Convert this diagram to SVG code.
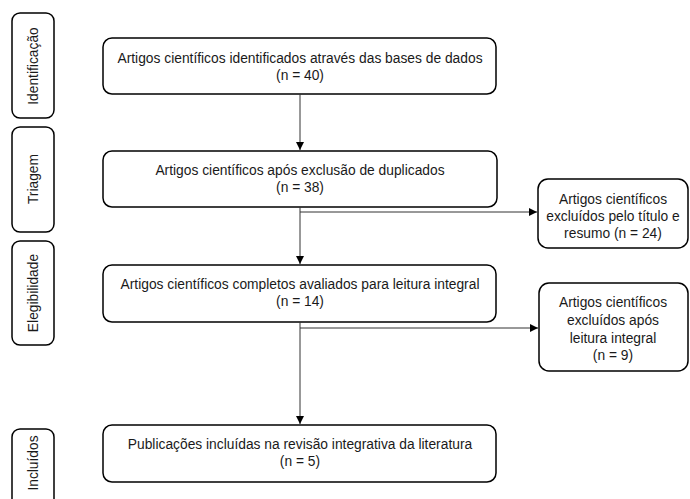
<svg xmlns="http://www.w3.org/2000/svg" width="690" height="499" viewBox="0 0 690 499">
  <defs>
    <marker id="arr" viewBox="0 0 10 10" refX="10" refY="5" markerWidth="8" markerHeight="8" markerUnits="userSpaceOnUse" orient="auto">
      <path d="M0,0 L10,5 L0,10 Z" fill="#000"/>
    </marker>
    <style>
      .box { fill: #fff; stroke: #000; stroke-width: 1.5; }
      .t { font-family: "Liberation Sans", Arial, sans-serif; font-size: 13.8px; fill: #1a1a1a; text-anchor: middle; }
      .c { fill: none; stroke: #333; stroke-width: 1; }
    </style>
  </defs>
  <rect width="690" height="499" fill="#fff"/>

  <g id="stage-identificacao">
    <rect class="box" x="12" y="13" width="42" height="105" rx="8"/>
    <text class="t" transform="translate(38,66) rotate(-90)">Identificação</text>
  </g>
  <g id="stage-triagem">
    <rect class="box" x="12" y="127" width="42" height="105" rx="8"/>
    <text class="t" transform="translate(38,179) rotate(-90)">Triagem</text>
  </g>
  <g id="stage-elegibilidade">
    <rect class="box" x="12" y="241" width="42" height="104" rx="8"/>
    <text class="t" transform="translate(38,293) rotate(-90)">Elegibilidade</text>
  </g>
  <g id="stage-incluidos">
    <rect class="box" x="12" y="429" width="42" height="85" rx="8"/>
    <text class="t" transform="translate(38,463) rotate(-90)">Incluídos</text>
  </g>

  <g id="n-identificados">
    <rect class="box" x="103" y="38" width="393" height="56" rx="9"/>
    <text class="t" x="300" y="63">Artigos científicos identificados através das bases de dados</text>
    <text class="t" x="300" y="80">(n = 40)</text>
  </g>
  <g id="n-triagem">
    <rect class="box" x="103" y="151" width="394" height="56" rx="9"/>
    <text class="t" x="300" y="175">Artigos científicos após exclusão de duplicados</text>
    <text class="t" x="300" y="192">(n = 38)</text>
  </g>
  <g id="n-elegiveis">
    <rect class="box" x="103" y="265" width="393" height="57" rx="9"/>
    <text class="t" x="300" y="289">Artigos científicos completos avaliados para leitura integral</text>
    <text class="t" x="300" y="306">(n = 14)</text>
  </g>
  <g id="n-incluidos">
    <rect class="box" x="103" y="425" width="393" height="57" rx="9"/>
    <text class="t" x="300" y="449">Publicações incluídas na revisão integrativa da literatura</text>
    <text class="t" x="300" y="466">(n = 5)</text>
  </g>
  <g id="n-excluidos-titulo">
    <rect class="box" x="538" y="179" width="150" height="69" rx="10"/>
    <text class="t" x="613" y="204">Artigos científicos</text>
    <text class="t" x="613" y="221">excluídos pelo título e</text>
    <text class="t" x="613" y="238">resumo (n = 24)</text>
  </g>
  <g id="n-excluidos-leitura">
    <rect class="box" x="539" y="283" width="149" height="88" rx="10"/>
    <text class="t" x="613" y="307">Artigos científicos</text>
    <text class="t" x="613" y="325">excluídos após</text>
    <text class="t" x="613" y="343">leitura integral</text>
    <text class="t" x="613" y="360">(n = 9)</text>
  </g>

  <g id="connectors">
    <line class="c" x1="300" y1="94" x2="300" y2="150" marker-end="url(#arr)"/>
    <line class="c" x1="300" y1="207" x2="300" y2="264" marker-end="url(#arr)"/>
    <line class="c" x1="300" y1="212" x2="537" y2="212" marker-end="url(#arr)"/>
    <line class="c" x1="300" y1="322" x2="300" y2="424" marker-end="url(#arr)"/>
    <line class="c" x1="300" y1="328" x2="538" y2="328" marker-end="url(#arr)"/>
  </g>
</svg>
